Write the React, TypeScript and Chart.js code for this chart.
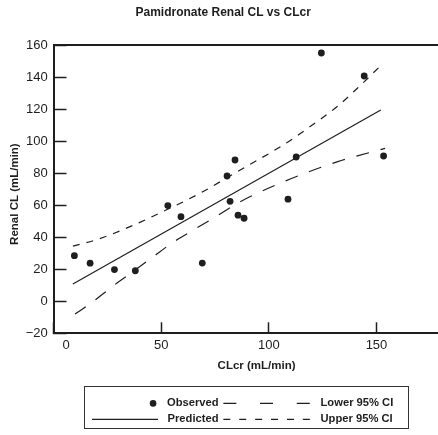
import { useEffect, useRef } from "react";
import { Chart, registerables } from "chart.js";

Chart.register(...registerables);

const chartTitle = "Pamidronate Renal CL vs CLcr";
const xTitle = "CLcr (mL/min)";
const yTitle = "Renal CL (mL/min)";
const xTicks = [0, 50, 100, 150];
const yTicks = [-20, 0, 20, 40, 60, 80, 100, 120, 140, 160];
const xMin = 0;
const xMax = 188.6;
const yMin = -20;
const yMax = 160;

const observedClcr = [9.7, 17.0, 28.3, 38.0, 53.1, 59.2, 69.1, 80.6, 84.3, 82.0, 85.7, 88.5, 112.7, 108.9, 124.4, 144.3, 153.3];
const observedRenal = [28.5, 23.8, 19.8, 19.1, 59.8, 52.9, 23.9, 78.3, 88.3, 62.5, 53.8, 51.9, 90.2, 63.8, 155.2, 140.8, 90.8];

const predictedClcr = [9, 152];
const predictedRenal = [10.8, 119.6];

const lowerClcr = [10, 18, 27, 36, 46, 55, 65, 75, 85, 107, 132, 154];
const lowerRenal = [-8, -0.6, 8.9, 17.7, 27.5, 36.4, 44.6, 52.5, 61, 74.8, 87.3, 95.6];

const upperClcr = [9, 20, 37, 53, 68, 84, 107, 120, 132, 141, 151];
const upperRenal = [34.5, 38.5, 47.5, 57.5, 67.5, 80, 98, 110, 122, 133, 146];

const legendNames = ["Observed", "Lower 95% CI", "Predicted", "Upper 95% CI"];

const FONT = "'Liberation Sans', Arial, sans-serif";
const INK = "#1e1e1e";
const CANVAS_W = 463;
const CANVAS_H = 435;

const toPoints = (xs: number[], ys: number[]) => xs.map((x, i) => ({ x, y: ys[i] }));

const legendFrame = {
  id: "legendFrame",
  afterDraw(chart: any) {
    const hb = chart.legend && chart.legend.legendHitBoxes;
    if (!hb || hb.length < 4) return;
    const ctx = chart.ctx;
    const left = hb[0].left + 14.4;
    const right = hb[1].left + hb[1].width + 14.6;
    const top = hb[0].top - 11.8;
    const bottom = hb[3].top + hb[3].height + 3;
    ctx.save();
    ctx.strokeStyle = "#333";
    ctx.lineWidth = 1;
    ctx.strokeRect(Math.round(left) + 0.5, Math.round(top) + 0.5, Math.round(right - left), Math.round(bottom - top));
    ctx.restore();
  },
};

export default function App() {
  const ref = useRef<HTMLCanvasElement | null>(null);

  useEffect(() => {
    if (!ref.current) return;
    const chart = new Chart(ref.current, {
      type: "scatter",
      data: {
        datasets: [
          {
            label: legendNames[0],
            data: toPoints(observedClcr, observedRenal),
            showLine: false,
            pointRadius: 3.4,
            pointBackgroundColor: INK,
            pointBorderWidth: 0,
            pointHoverRadius: 3.4,
          },
          {
            label: legendNames[2],
            data: toPoints(predictedClcr, predictedRenal),
            showLine: true,
            borderColor: INK,
            borderWidth: 1.2,
            pointRadius: 0,
          },
          {
            label: legendNames[1],
            data: toPoints(lowerClcr, lowerRenal),
            showLine: true,
            borderColor: INK,
            borderWidth: 1.2,
            borderDash: [13, 12],
            cubicInterpolationMode: "monotone",
            pointRadius: 0,
          },
          {
            label: legendNames[3],
            data: toPoints(upperClcr, upperRenal),
            showLine: true,
            borderColor: INK,
            borderWidth: 1.2,
            borderDash: [7, 7],
            cubicInterpolationMode: "monotone",
            pointRadius: 0,
          },
        ],
      },
      options: {
        animation: false,
        responsive: false,
        layout: { padding: 0 },
        plugins: {
          tooltip: { enabled: false },
          title: {
            display: true,
            text: chartTitle + "     ",
            color: INK,
            font: { family: FONT, size: 12, weight: "bold" },
            padding: { top: 5.6, bottom: 25.3 },
          },
          legend: {
            display: true,
            position: "bottom",
            align: "center",
            labels: {
              usePointStyle: true,
              pointStyleWidth: 91.6,
              boxHeight: 11.2,
              padding: 4.8,
              color: INK,
              font: { family: FONT, size: 11.2, weight: "bold" },
              generateLabels: () => [
                { text: legendNames[0], datasetIndex: 0, pointStyle: "line", lineWidth: 6.6, lineCap: "round", lineDash: [0, 300], lineDashOffset: -83.35, strokeStyle: INK, fillStyle: INK, fontColor: INK, hidden: false },
                { text: legendNames[1], datasetIndex: 2, pointStyle: "line", lineWidth: 1.2, lineDash: [13, 23.7], lineDashOffset: 0, strokeStyle: INK, fillStyle: INK, fontColor: INK, hidden: false },
                { text: legendNames[2], datasetIndex: 1, pointStyle: "line", lineWidth: 1.2, lineDash: [66, 300], lineDashOffset: -21.7, strokeStyle: INK, fillStyle: INK, fontColor: INK, hidden: false },
                { text: legendNames[3], datasetIndex: 3, pointStyle: "line", lineWidth: 1.2, lineDash: [7, 8.9], lineDashOffset: 0, strokeStyle: INK, fillStyle: INK, fontColor: INK, hidden: false },
              ],
            },
          },
        },
        scales: {
          x: {
            type: "linear",
            position: "bottom",
            min: xMin,
            max: xMax,
            afterBuildTicks: (s: any) => {
              s.ticks = xTicks.map((v) => ({ value: v }));
            },
            afterFit: (s: any) => {
              s.height = 59.7;
              s.paddingLeft = 0;
              s.paddingRight = 0;
            },
            grid: { drawOnChartArea: false, drawTicks: true, tickLength: -11, tickWidth: 1.5, tickColor: INK },
            border: { display: true, color: INK, width: 2 },
            ticks: {
              color: INK,
              padding: 15.7,
              maxRotation: 0,
              font: { family: FONT, size: 13 },
              callback: (v: any) => (v === 0 ? "       0" : String(v)),
            },
            title: {
              display: true,
              text: xTitle,
              color: INK,
              font: { family: FONT, size: 11.5, weight: "bold" },
              padding: { top: 0, bottom: 20.1 },
            },
          },
          x2: {
            type: "linear",
            position: "top",
            min: xMin,
            max: xMax,
            afterFit: (s: any) => {
              s.height = 0;
              s.paddingLeft = 0;
              s.paddingRight = 0;
            },
            grid: { display: true, drawOnChartArea: false, drawTicks: false },
            border: { display: true, color: INK, width: 2 },
            ticks: { display: false },
          },
          y: {
            type: "linear",
            position: "left",
            min: yMin,
            max: yMax,
            afterBuildTicks: (s: any) => {
              s.ticks = yTicks.map((v) => ({ value: v }));
            },
            afterFit: (s: any) => {
              s.width = 53.5;
              s.paddingTop = 0;
              s.paddingBottom = 0;
            },
            grid: { drawOnChartArea: false, drawTicks: true, tickLength: -13, tickWidth: 1.5, tickColor: INK },
            border: { display: true, color: INK, width: 2 },
            ticks: {
              color: INK,
              padding: 18.8,
              font: { family: FONT, size: 13 },
              callback: (v: any) => (v < 0 ? "\u2212" + Math.abs(v) : String(v)),
            },
            title: {
              display: true,
              text: yTitle + "   ",
              color: INK,
              font: { family: FONT, size: 11.5, weight: "bold" },
              padding: { top: 8.1, bottom: 0 },
            },
          },
        },
      },
      plugins: [legendFrame],
    } as any);
    return () => chart.destroy();
  }, []);

  return (
    <div style={{ position: "absolute", left: 0, top: 0, width: 438, height: CANVAS_H, overflow: "hidden", background: "#fff" }}>
      <canvas ref={ref} width={CANVAS_W} height={CANVAS_H} style={{ display: "block" }} />
    </div>
  );
}
